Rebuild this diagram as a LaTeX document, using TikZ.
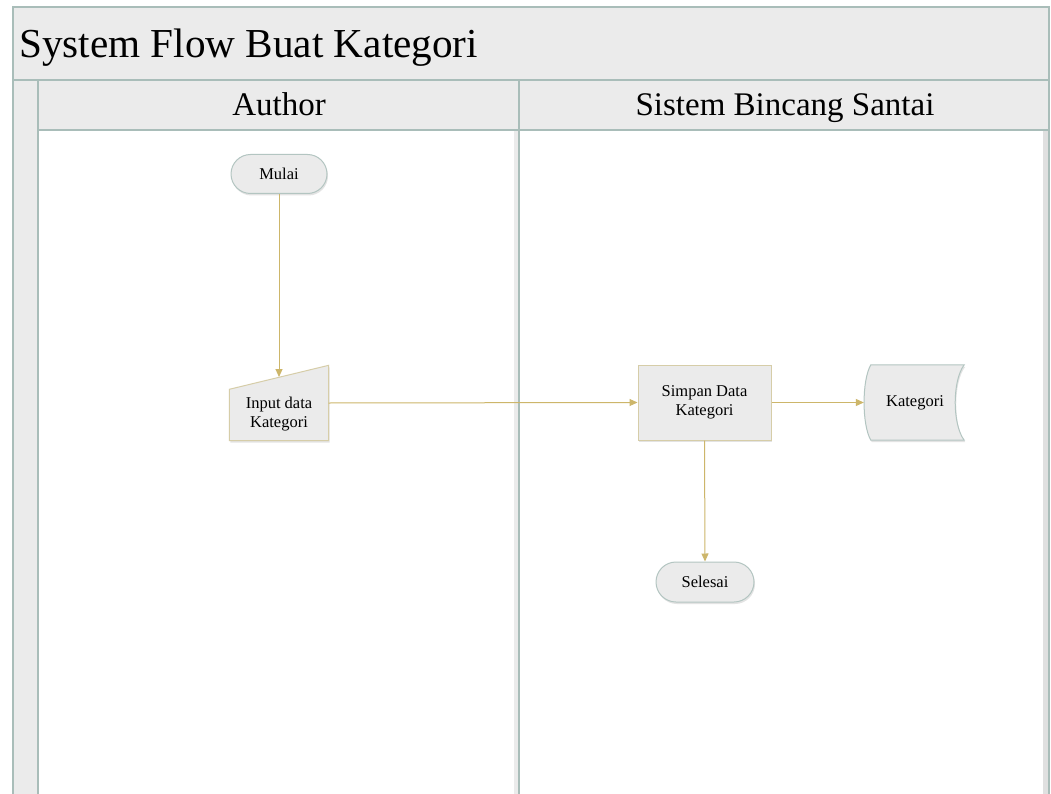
\documentclass[tikz,border=0pt]{standalone}
\usepackage{fontspec}
\setmainfont{Liberation Serif}
\usetikzlibrary{shapes.misc,arrows.meta,shadows,calc}
\definecolor{lanefill}{HTML}{EBEBEB}
\definecolor{laneline}{HTML}{A9BDB9}
\definecolor{flowc}{HTML}{CDB66A}
\definecolor{nodefill}{HTML}{EBEBEB}
\definecolor{termline}{HTML}{B3C5C1}
\definecolor{procline}{HTML}{D6CDA8}
\begin{document}
\begin{tikzpicture}[x=1pt,y=-1pt,
  lane/.style={draw=laneline,line width=1.5pt,fill=lanefill},
  body/.style={draw=laneline,line width=1.5pt,fill=white},
  flow/.style={draw=flowc,line width=1pt,-{Triangle[length=8pt,width=7pt]}},
  nshadow/.style={drop shadow={opacity=0.22,shadow xshift=1pt,shadow yshift=-2pt}},
  nodetext/.style={font=\fontsize{16.5}{19.5}\selectfont,align=center},
  term/.style={rounded rectangle,draw=termline,line width=1pt,fill=nodefill,minimum width=104pt,minimum height=39pt,inner xsep=4pt,nodetext,nshadow},
  proc/.style={rectangle,draw=procline,line width=1pt,fill=nodefill,minimum width=133pt,minimum height=75pt,nodetext,nshadow},
  shapebox/.style={rectangle,inner sep=0pt,minimum width=99pt,minimum height=75pt},
  inshape/.style={draw=procline,line width=1pt,fill=nodefill,nshadow},
  storeshape/.style={draw=termline,line width=1pt,fill=nodefill,nshadow},
  lanetitle/.style={font=\fontsize{33}{38}\selectfont,anchor=base}
]
\useasboundingbox (0,0) rectangle (1051,794);
\clip (0,0) rectangle (1051,794);
% pool frame
\fill[white] (0,0) rectangle (1051,794);
\draw[lane] (13,7) rectangle (1049,80);
\draw[lane] (13,80) rectangle (38,810);
\draw[lane] (38,80) rectangle (519,130);
\draw[lane] (519,80) rectangle (1049,130);
\draw[body] (38,130) rectangle (519,810);
\draw[body] (519,130) rectangle (1049,810);
\fill[black!12] (1043,131) rectangle (1048,810);
\draw[laneline,line width=1.5pt] (1049,130) -- (1049,810);
\fill[black!8] (514,131) rectangle (518,810);
\draw[laneline,line width=1.5pt] (519,130) -- (519,810);
% titles
\node[anchor=base west,font=\fontsize{41.2}{48}\selectfont,inner sep=0pt] (title) at (19,58) {System Flow Buat Kategori};
\node[lanetitle] (author) at (279,116) {Author};
\node[lanetitle] (sistem) at (785,116) {Sistem Bincang Santai};
% nodes
\node[term] (mulai) at (279,174) {Mulai};
\node[shapebox] (input) at (279,403) {};
\path[inshape] (input.south west) -- (input.south east) -- (input.north east) -- ($(input.north west)+(0,24)$) -- cycle;
\node[nodetext] (inputtxt) at (279,414) {Input data\\Kategori};
\coordinate (inputtop) at (279,377);
\node[proc] (simpan) at (704.5,402.5) {Simpan Data\\Kategori};
\node[shapebox,minimum width=100pt] (kat) at (914,402.5) {};
\path[storeshape] ($(kat.north west)+(7,0)$) .. controls ($(kat.west)+(-2,-22)$) and ($(kat.west)+(-2,22)$) .. ($(kat.south west)+(7,0)$)
  -- ($(kat.south east)$) .. controls ($(kat.east)+(-12,22)$) and ($(kat.east)+(-12,-22)$) .. ($(kat.north east)$) -- cycle;
\node[nodetext] (kattxt) at (915,403) {Kategori};
\node[term,minimum width=106pt,minimum height=40pt] (selesai) at (705,582) {Selesai};
% connectors
\draw[flow] (mulai.south) -- (inputtop);
\draw[flow] (input.east) -- (simpan.west);
\draw[flow] (simpan.east) -- (kat.west);
\draw[flow] (simpan.south) -- (selesai.north);
\end{tikzpicture}
\end{document}
